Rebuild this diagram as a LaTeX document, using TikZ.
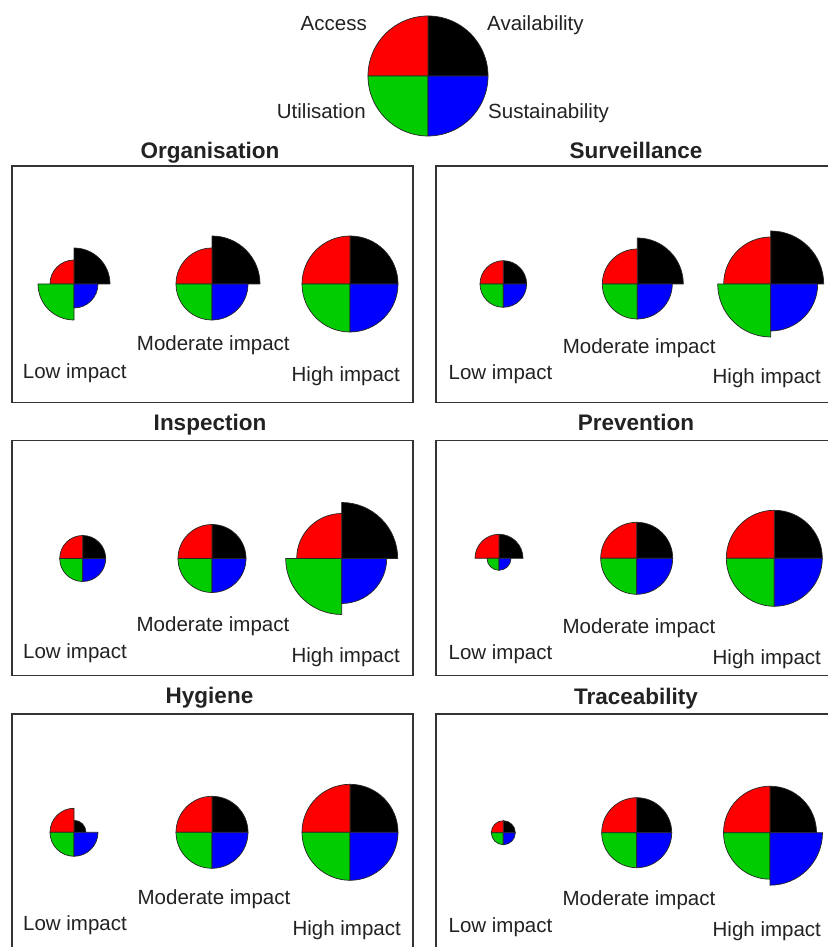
\documentclass[tikz,border=0pt]{standalone}
\usepackage{fontspec}
\setmainfont{Liberation Sans}
\usepackage{tikz}

\definecolor{qred}{RGB}{255,0,0}
\definecolor{qgreen}{RGB}{0,204,0}
\definecolor{qblue}{RGB}{0,0,255}
\definecolor{txtgray}{RGB}{34,34,34}

\tikzset{
  sector/.style={draw=black!85, line width=0.7pt, line join=round},
  panel/.style={draw=black!80, line width=1.3pt},
  lbl/.style={font=\fontsize{20.5}{24}\selectfont, text=txtgray, inner sep=0pt, anchor=base},
  ttl/.style={font=\fontsize{22.5}{26}\selectfont\bfseries, text=txtgray, inner sep=0pt, anchor=base},
}

% quarter pie: centre x, centre y, radius NE, NW, SW, SE
\newcommand{\qpie}[6]{%
  \filldraw[sector, fill=black] (#1,#2) -- ++(0:#3pt) arc[start angle=0, end angle=90, radius=#3pt] -- cycle;
  \filldraw[sector, fill=qred] (#1,#2) -- ++(90:#4pt) arc[start angle=90, end angle=180, radius=#4pt] -- cycle;
  \filldraw[sector, fill=qgreen] (#1,#2) -- ++(180:#5pt) arc[start angle=180, end angle=270, radius=#5pt] -- cycle;
  \filldraw[sector, fill=qblue] (#1,#2) -- ++(270:#6pt) arc[start angle=270, end angle=360, radius=#6pt] -- cycle;
}

\begin{document}
\begin{tikzpicture}[x=1pt, y=1pt]
    \fill[white] (0,0) rectangle (827,947);
    \useasboundingbox (0,0) rectangle (827,947);

    % key
    \qpie{428}{871}{60}{60}{60}{60}
    \node[lbl, anchor=base east] (keyAcc) at (367,916) {Access};
    \node[lbl, anchor=base west] (keyAvail) at (487,916) {Availability};
    \node[lbl, anchor=base east] (keyUtil) at (366,828) {Utilisation};
    \node[lbl, anchor=base west] (keySust) at (488,828) {Sustainability};

    % panels
    \draw[panel] (12,544.5) rectangle (413,781);
    \draw[panel] (436,544.5) rectangle (830,781);
    \draw[panel] (12,271.5) rectangle (413,506.5);
    \draw[panel] (436,271.5) rectangle (830,506.5);
    \draw[panel] (12,-5) rectangle (413,233);
    \draw[panel] (436,-5) rectangle (830,233);

    \node[ttl] (orgTitle) at (210,788) {Organisation};
    \node[ttl] (survTitle) at (636,788) {Surveillance};
    \node[ttl] (inspTitle) at (210,516.3) {Inspection};
    \node[ttl] (prevTitle) at (636,516.3) {Prevention};
    \node[ttl] (hygTitle) at (209.5,243) {Hygiene};
    \node[ttl] (traceTitle) at (636,242) {Traceability};

    % Organisation
    \qpie{74}{663}{36}{24}{36}{24}
    \qpie{212}{663}{48}{36}{36}{36}
    \qpie{350}{663}{48}{48}{48}{48}
    \node[lbl] (orgMod) at (213.3,596.3) {Moderate impact};
    \node[lbl] (orgLow) at (74.7,568.7) {Low impact};
    \node[lbl] (orgHigh) at (345.8,565.3) {High impact};

    % Surveillance
    \qpie{503.3}{663}{23.3}{23.3}{23.3}{23.3}
    \qpie{637.3}{663}{46}{35}{35}{35}
    \qpie{770.7}{663}{53}{47}{53}{47}
    \node[lbl] (survMod) at (639.2,593.7) {Moderate impact};
    \node[lbl] (survLow) at (500.5,567.7) {Low impact};
    \node[lbl] (survHigh) at (766.8,563.7) {High impact};

    % Inspection
    \qpie{82.7}{388.5}{23}{23}{23}{23}
    \qpie{212}{388.5}{34}{34}{34}{34}
    \qpie{341.7}{388.5}{56}{45}{56}{45}
    \node[lbl] (inspMod) at (213,315.3) {Moderate impact};
    \node[lbl] (inspLow) at (75,288.7) {Low impact};
    \node[lbl] (inspHigh) at (345.7,284.7) {High impact};

    % Prevention
    \qpie{499}{388.7}{24}{24}{12}{12}
    \qpie{636.7}{388.7}{36}{36}{36}{36}
    \qpie{774.3}{388.7}{48}{48}{48}{48}
    \node[lbl] (prevMod) at (639,313.7) {Moderate impact};
    \node[lbl] (prevLow) at (500.5,287) {Low impact};
    \node[lbl] (prevHigh) at (766.8,282.7) {High impact};

    % Hygiene
    \qpie{74}{114.7}{12}{24}{24}{24}
    \qpie{212}{114.7}{36}{36}{36}{36}
    \qpie{350}{114.7}{48}{48}{48}{48}
    \node[lbl] (hygMod) at (214,42.7) {Moderate impact};
    \node[lbl] (hygLow) at (75,16.3) {Low impact};
    \node[lbl] (hygHigh) at (346.7,12) {High impact};

    % Traceability
    \qpie{503.3}{114.3}{12}{12}{12}{12}
    \qpie{636.7}{114.3}{35}{35}{35}{35}
    \qpie{770}{114.3}{46.5}{46.5}{46.5}{52.5}
    \node[lbl] (traceMod) at (639,41) {Moderate impact};
    \node[lbl] (traceLow) at (500.5,14.3) {Low impact};
    \node[lbl] (traceHigh) at (766.8,10.3) {High impact};
\end{tikzpicture}
\end{document}
